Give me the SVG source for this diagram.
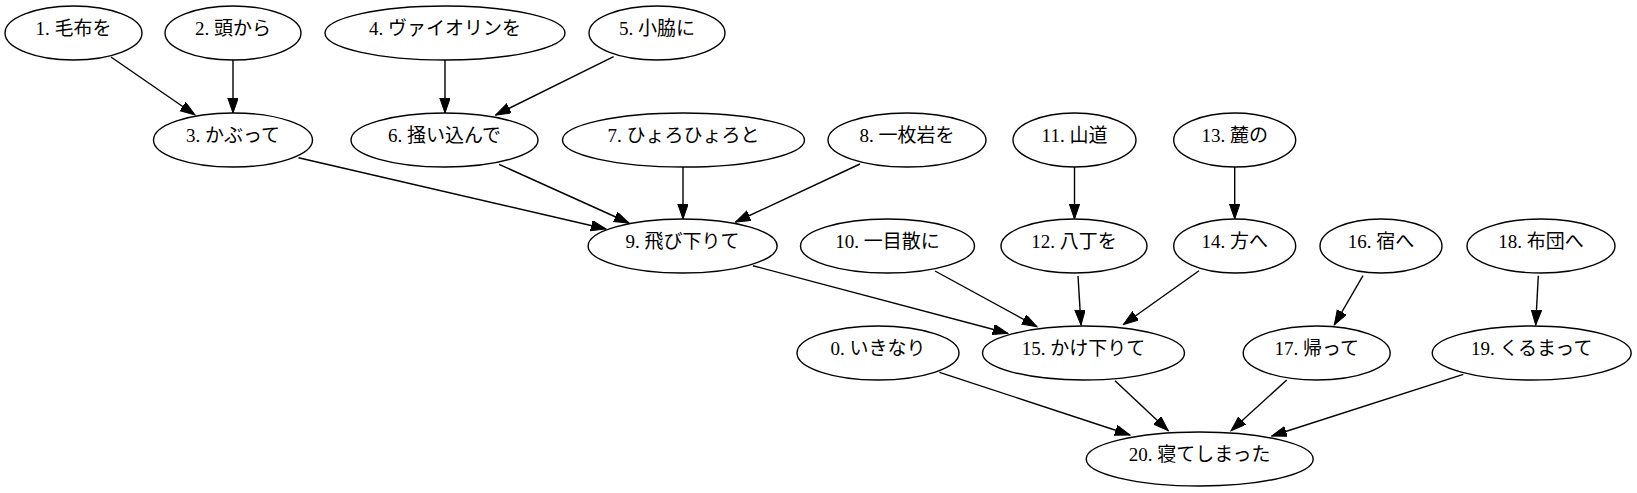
<svg xmlns="http://www.w3.org/2000/svg" width="1637" height="493" viewBox="0 0 1637 493">
<style>
.n ellipse{fill:#fff;stroke:#000;stroke-width:1.4}
.n text{font-family:"Liberation Serif","Noto Sans CJK JP",serif;font-size:19px;text-anchor:middle;fill:#000}
.e line{stroke:#000;stroke-width:1.4;marker-end:url(#ah)}
</style>
<defs>
<marker id="ah" markerUnits="userSpaceOnUse" markerWidth="16" markerHeight="12" refX="15" refY="5.2" orient="auto"><path d="M0,0 L15,5.2 L0,10.4 z" fill="#000" stroke="#000" stroke-width="1"/></marker>
</defs>
<rect width="1637" height="493" fill="#fff"/>
<g class="e" id="edges">
<line x1="111" y1="57" x2="195" y2="115"/>
<line x1="233" y1="60" x2="233" y2="113"/>
<line x1="445" y1="60" x2="445" y2="113"/>
<line x1="613.6" y1="56.7" x2="495.6" y2="115"/>
<line x1="298.5" y1="157.7" x2="606" y2="229"/>
<line x1="499" y1="164.3" x2="629" y2="223"/>
<line x1="683" y1="167" x2="683" y2="219"/>
<line x1="860" y1="164" x2="735.5" y2="222"/>
<line x1="1074.5" y1="167" x2="1074.5" y2="219"/>
<line x1="1234.7" y1="167" x2="1234.7" y2="219"/>
<line x1="752.9" y1="265.7" x2="1007.8" y2="333.3"/>
<line x1="935" y1="271" x2="1037" y2="326.7"/>
<line x1="1078" y1="276" x2="1081" y2="325"/>
<line x1="1199" y1="270.7" x2="1123.4" y2="324.5"/>
<line x1="1363" y1="275.7" x2="1334.3" y2="325"/>
<line x1="1538.3" y1="275.7" x2="1535.7" y2="325"/>
<line x1="939.5" y1="372.3" x2="1130" y2="435"/>
<line x1="1115" y1="380.7" x2="1168.3" y2="430.7"/>
<line x1="1286.7" y1="380" x2="1231" y2="430.7"/>
<line x1="1463.3" y1="374.3" x2="1271.7" y2="436"/>
</g>
<g class="n" id="node1"><ellipse cx="73.5" cy="33" rx="68.5" ry="27"/><text x="73.5" y="35">1. 毛布を</text></g>
<g class="n" id="node2"><ellipse cx="233" cy="33" rx="68" ry="27"/><text x="233" y="35">2. 頭から</text></g>
<g class="n" id="node4"><ellipse cx="445" cy="33" rx="120" ry="27"/><text x="445" y="35">4. ヴァイオリンを</text></g>
<g class="n" id="node5"><ellipse cx="657" cy="33" rx="68" ry="27"/><text x="657" y="35">5. 小脇に</text></g>
<g class="n" id="node3"><ellipse cx="233" cy="140" rx="79.5" ry="27"/><text x="233" y="142">3. かぶって</text></g>
<g class="n" id="node6"><ellipse cx="444.5" cy="140" rx="93.5" ry="27"/><text x="444.5" y="142">6. 掻い込んで</text></g>
<g class="n" id="node7"><ellipse cx="683.5" cy="140" rx="121" ry="27"/><text x="683.5" y="142">7. ひょろひょろと</text></g>
<g class="n" id="node8"><ellipse cx="907" cy="140" rx="79" ry="27"/><text x="907" y="142">8. 一枚岩を</text></g>
<g class="n" id="node11"><ellipse cx="1074.5" cy="140" rx="61.5" ry="27"/><text x="1074.5" y="142">11. 山道</text></g>
<g class="n" id="node13"><ellipse cx="1234.7" cy="140" rx="61" ry="27"/><text x="1234.7" y="142">13. 麓の</text></g>
<g class="n" id="node9"><ellipse cx="682.6" cy="246" rx="94.5" ry="27"/><text x="682.6" y="248">9. 飛び下りて</text></g>
<g class="n" id="node10"><ellipse cx="887.5" cy="246" rx="87" ry="27"/><text x="887.5" y="248">10. 一目散に</text></g>
<g class="n" id="node12"><ellipse cx="1074" cy="246" rx="73" ry="27"/><text x="1074" y="248">12. 八丁を</text></g>
<g class="n" id="node14"><ellipse cx="1234.7" cy="246" rx="61" ry="27"/><text x="1234.7" y="248">14. 方へ</text></g>
<g class="n" id="node16"><ellipse cx="1381" cy="246" rx="61" ry="27"/><text x="1381" y="248">16. 宿へ</text></g>
<g class="n" id="node18"><ellipse cx="1541" cy="246" rx="74" ry="27"/><text x="1541" y="248">18. 布団へ</text></g>
<g class="n" id="node0"><ellipse cx="878" cy="353" rx="81" ry="27"/><text x="878" y="355">0. いきなり</text></g>
<g class="n" id="node15"><ellipse cx="1083.5" cy="353" rx="101" ry="27"/><text x="1083.5" y="355">15. かけ下りて</text></g>
<g class="n" id="node17"><ellipse cx="1316.7" cy="353" rx="73.5" ry="27"/><text x="1316.7" y="355">17. 帰って</text></g>
<g class="n" id="node19"><ellipse cx="1531.7" cy="353" rx="99.5" ry="27"/><text x="1531.7" y="355">19. くるまって</text></g>
<g class="n" id="node20"><ellipse cx="1199.7" cy="459" rx="113.5" ry="27"/><text x="1199.7" y="461">20. 寝てしまった</text></g>
</svg>
